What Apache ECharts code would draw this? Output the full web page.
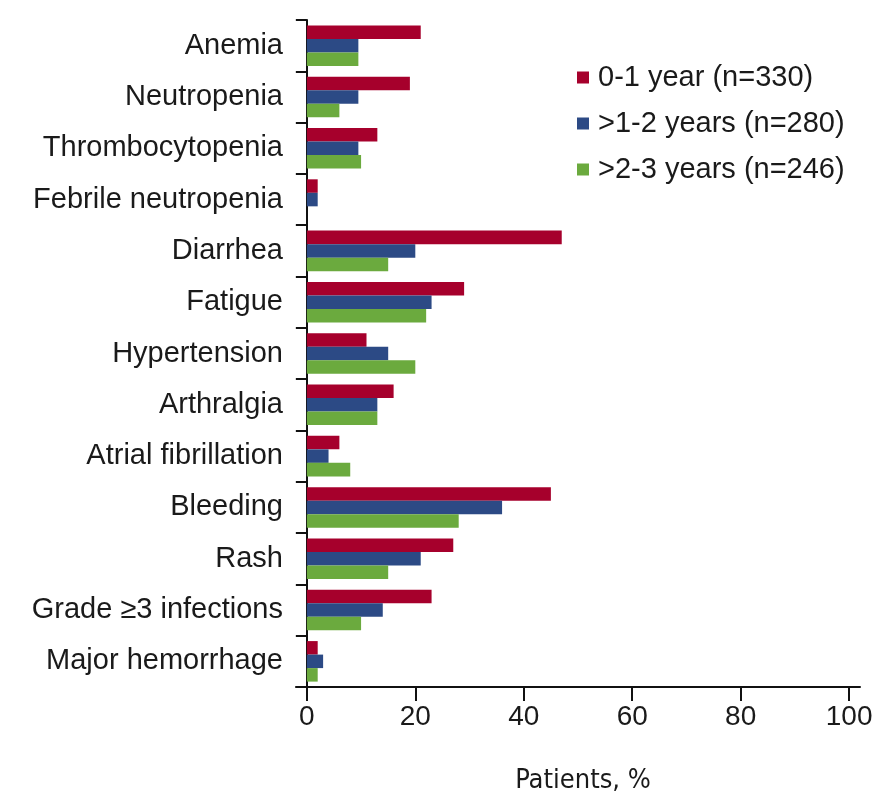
<!DOCTYPE html>
<html>
<head>
<meta charset="utf-8">
<script src="https://cdn.jsdelivr.net/npm/echarts@6/dist/echarts.min.js"></script>
<style>html,body{margin:0;padding:0;background:#fff}#c{width:892px;height:793px}</style>
</head>
<body>
<div id="c"></div>
<script>
var categories = ["Anemia","Neutropenia","Thrombocytopenia","Febrile neutropenia","Diarrhea","Fatigue","Hypertension","Arthralgia","Atrial fibrillation","Bleeding","Rash","Grade \u22653 infections","Major hemorrhage"];
var seriesNames = ["0-1 year (n=330)", ">1-2 years (n=280)", ">2-3 years (n=246)"];
var year01 = [21, 19, 13, 2, 47, 29, 11, 16, 6, 45, 27, 23, 2];
var year12 = [9.5, 9.5, 9.5, 2, 20, 23, 15, 13, 4, 36, 21, 14, 3];
var year23 = [9.5, 6, 10, 0, 15, 22, 20, 13, 8, 28, 15, 10, 2];
var xTicks = [0, 20, 40, 60, 80, 100];
var colors = ["#A6002C", "#2C4A85", "#6BAA3E"];

var chart = echarts.init(document.getElementById('c'), null, {renderer: 'canvas'});
var font = "Liberation Sans, Arial, Helvetica, sans-serif";
function mk(name, data, i) {
  return {
    name: name, type: 'bar', data: data,
    barGap: '0%', barCategoryGap: '21%',
    itemStyle: {color: colors[i]},
    emphasis: {disabled: true}
  };
}
chart.setOption({
  animation: false,
  textStyle: {fontFamily: font},
  grid: {left: 296, right: 32, top: 20, bottom: 106, containLabel: false, outerBoundsMode: 'none'},
  legend: {
    orient: 'vertical', left: 572, top: 58,
    icon: 'rect', itemWidth: 12, itemHeight: 12, itemGap: 17,
    textStyle: {fontSize: 29, color: '#1a1a1a', fontFamily: font, padding: [0, 0, 0, 4]},
    selectedMode: false,
    data: seriesNames
  },
  xAxis: {
    type: 'value', min: -2, max: 102,
    splitLine: {show: false},
    axisLine: {show: true, onZero: false, lineStyle: {color: '#111', width: 2}},
    axisTick: {show: true, customValues: xTicks, length: 14, lineStyle: {color: '#111', width: 2}},
    axisLabel: {show: true, customValues: xTicks, fontSize: 28, color: '#1a1a1a', margin: 16},
    name: 'Patients, %', nameLocation: 'middle', nameGap: 80,
    nameTextStyle: {fontSize: 27, color: '#1a1a1a', padding: [0, 0, 0, 10], fontFamily: "Liberation Sans Narrow, DejaVu Sans Condensed, sans-serif"}
  },
  yAxis: {
    type: 'category', data: categories, inverse: true,
    axisLine: {show: true, onZero: true, lineStyle: {color: '#111', width: 2}},
    axisTick: {show: true, length: 11, lineStyle: {color: '#111', width: 2}},
    axisLabel: {fontSize: 29, color: '#1a1a1a', margin: 13}
  },
  series: [mk(seriesNames[0], year01, 0), mk(seriesNames[1], year12, 1), mk(seriesNames[2], year23, 2)]
});
</script>
</body>
</html>
